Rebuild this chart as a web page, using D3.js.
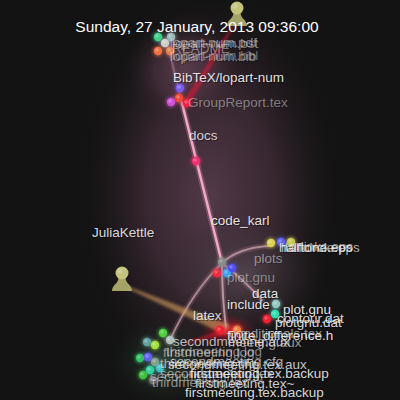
<!DOCTYPE html>
<html>
<head>
<meta charset="utf-8">
<script src="https://cdn.jsdelivr.net/npm/d3@7"></script>
<style>
  body { margin: 0; background: #131313; }
  svg { display: block; }
</style>
</head>
<body>
<div id="chart"></div>
<script>
// layout space of the frame (same units as the 400px frame)
const title = "Sunday, 27 January, 2013 09:36:00";

// directory branches: x1, y1, x2, y2, bend x, bend y, strength
const branches = [
  [222, 263, 182, 103, 202, 183, 1.0],   // code_karl -> docs
  [182, 103, 168, 46, 175, 75, 0.25],    // docs -> BibTeX/lopart-num
  [222, 263, 268, 246, 238, 248, 0.6],   // -> plots
  [222, 263, 262, 300, 244, 280, 0.6],   // -> data
  [222, 263, 226, 328, 222, 296, 0.7],   // -> include
  [222, 263, 170, 340, 192, 292, 0.55],  // -> latex
];

// file nodes: x, y, colour
const files = [
  [158, 37, "#3fd08a"], [171, 37, "#9ab8b8"], [165, 43, "#cfcfcf"],
  [158, 51, "#f07040"], [170, 51, "#e08050"],
  [180, 88, "#7a5cf0"], [179, 98, "#f04838"], [187, 103, "#f02040"],
  [171, 102, "#d050d8"], [196, 161, "#f03070"],
  [222, 262, "#8a8a8a"], [217, 273, "#f02840"], [227, 273, "#40a0f0"],
  [232, 268, "#5050f0"],
  [271, 243, "#d8d050"], [281, 242, "#6060f0"], [291, 242, "#c8c850"],
  [276, 304, "#90c8c0"], [275, 314, "#30e0b0"], [267, 319, "#f02030"],
  [220, 330, "#f02030"], [237, 330, "#f08040"],
  [163, 333, "#50d040"], [147, 342, "#60a0a0"], [155, 345, "#a0e040"],
  [170, 340, "#b0c0b8"], [140, 358, "#30c060"], [148, 357, "#6060f0"],
  [155, 362, "#80a090"], [150, 370, "#30d0a0"], [143, 375, "#40c040"],
  [160, 368, "#40c0c0"], [153, 380, "#707070"],
];

// users (avatars): name, x, y
const users = [
  ["", 237, 14],
  ["JuliaKettle", 122, 279],
];

// action beams: user index, target x, target y, colour, width at target
const beams = [
  [0, 188, 100, "#e01830", 7],
  [1, 228, 330, "#d8a060", 11],
];

// stray flash near latex: x1, y1, x2, y2, colour, width
const flashes = [
  [184, 344, 240, 327, "#e01828", 7],
];

// labels: text, x, baseline y, tone (1 = bright, 0.5 = faded)
const labels = [
  ["JuliaKettle", 92, 237, 0.9],
  ["lopart-num.pdf", 170, 47, 0.5],
  ["lopart-num.bst", 172, 48, 0.5],
  ["README", 172, 53, 0.45],
  ["lopart-num.bib", 170, 61, 0.5],
  ["lopart-num.bbl", 172, 60, 0.4],
  ["BibTeX/lopart-num", 173, 82, 0.95],
  ["GroupReport.tex", 188, 107, 0.45],
  ["docs", 189, 140, 0.85],
  ["code_karl", 211, 225, 0.95],
  ["halftone.eps", 279, 252, 0.85],
  ["halfcircle.eps", 281, 252, 0.7],
  ["torlinks.eps", 285, 251, 0.6],
  ["plots", 254, 263, 0.5],
  ["plot.gnu", 227, 282, 0.45],
  ["data", 252, 298, 0.95],
  ["include", 227, 309, 0.95],
  ["plot.gnu", 283, 314, 0.95],
  ["contour.dat", 277, 323, 0.9],
  ["plotgnu.dat", 275, 327, 0.9],
  ["latex", 193, 320, 0.9],
  ["finite_difference.h", 227, 340, 0.95],
  ["conditionals.tex", 229, 338, 0.6],
  ["secondmeeting.aux", 173, 346, 0.75],
  ["meeting.aux", 228, 347, 0.6],
  ["firstmeeting.log", 163, 357, 0.55],
  ["thirdmeeting.log", 166, 356, 0.5],
  ["secondmeeting.cfg", 170, 366, 0.7],
  ["thirdmeeting.cfg", 160, 368, 0.65],
  ["secondmeeting.tex.aux", 168, 369, 0.8],
  ["secondmeeting.tex", 160, 378, 0.6],
  ["firstmeeting.tex.backup", 190, 378, 0.9],
  ["secondmeeting.log", 150, 381, 0.45],
  ["thirdmeeting.tex", 152, 387, 0.55],
  ["firstmeeting.tex~", 195, 388, 0.85],
  ["firstmeeting.tex.backup", 185, 397, 0.9],
];

const width = 400;
const height = 400;

const x = d3.scaleLinear().domain([0, 400]).range([0, width]);
const y = d3.scaleLinear().domain([0, 400]).range([0, height]);

const svg = d3
  .select("#chart")
  .append("svg")
  .attr("width", width)
  .attr("height", height);

const defs = svg.append("defs");

const radial = (id, stops) => {
  const g = defs.append("radialGradient").attr("id", id);
  stops.forEach(([o, c, a]) =>
    g.append("stop").attr("offset", o).attr("stop-color", c).attr("stop-opacity", a)
  );
};
radial("haze", [["0%", "#6e4a60", 0.7], ["50%", "#553848", 0.55], ["100%", "#2a1c24", 0]]);
radial("grey", [["0%", "#6a6068", 0.5], ["100%", "#3a3036", 0]]);
radial("green", [["0%", "#3c5a46", 0.7], ["100%", "#1c2a20", 0]]);
radial("red", [["0%", "#ff2030", 0.7], ["100%", "#a01020", 0]]);

const soft = defs.append("filter").attr("id", "soft").attr("x", "-50%").attr("y", "-50%")
  .attr("width", "200%").attr("height", "200%");
soft.append("feGaussianBlur").attr("stdDeviation", 1.6);

// background
svg.append("rect").attr("width", width).attr("height", height).attr("fill", "#131313");

// glow behind the tree
const glow = svg.append("g");
glow.append("ellipse").attr("cx", x(210)).attr("cy", y(195))
  .attr("rx", 130).attr("ry", 205).attr("fill", "url(#haze)");
glow.append("ellipse").attr("cx", x(185)).attr("cy", y(70))
  .attr("rx", 60).attr("ry", 55).attr("fill", "url(#haze)");
glow.append("ellipse").attr("cx", x(245)).attr("cy", y(275))
  .attr("rx", 80).attr("ry", 60).attr("fill", "url(#grey)");
glow.append("ellipse").attr("cx", x(165)).attr("cy", y(362))
  .attr("rx", 55).attr("ry", 45).attr("fill", "url(#green)");
glow.append("ellipse").attr("cx", x(228)).attr("cy", y(330))
  .attr("rx", 28).attr("ry", 16).attr("fill", "url(#red)");

// branches
const branchPath = (d) => {
  const p = d3.path();
  p.moveTo(x(d[0]), y(d[1]));
  p.quadraticCurveTo(x(d[4]), y(d[5]), x(d[2]), y(d[3]));
  return p.toString();
};
const br = svg.append("g").attr("fill", "none").attr("stroke-linecap", "round");
br.selectAll("path.halo")
  .data(branches)
  .join("path")
  .attr("class", "halo")
  .attr("d", branchPath)
  .attr("stroke", "#f0a0c0")
  .attr("stroke-opacity", (d) => 0.25 * d[6])
  .attr("stroke-width", 6);
br.selectAll("path.core")
  .data(branches)
  .join("path")
  .attr("class", "core")
  .attr("d", branchPath)
  .attr("stroke", (d) => (d[6] > 0.9 ? "#f2a8c4" : "#c8a4ac"))
  .attr("stroke-opacity", (d) => Math.min(1, d[6] + 0.15))
  .attr("stroke-width", (d) => (d[6] > 0.9 ? 2.5 : 2));

// beams from users to files
const beamPoly = (x0, y0, x1, y1, w0, w1) => {
  const dx = x1 - x0, dy = y1 - y0, len = Math.hypot(dx, dy);
  const nx = -dy / len, ny = dx / len;
  return [
    [x0 + nx * w0 / 2, y0 + ny * w0 / 2],
    [x1 + nx * w1 / 2, y1 + ny * w1 / 2],
    [x1 - nx * w1 / 2, y1 - ny * w1 / 2],
    [x0 - nx * w0 / 2, y0 - ny * w0 / 2],
  ];
};
const bm = svg.append("g");
bm.selectAll("polygon.beam")
  .data(beams)
  .join("polygon")
  .attr("class", "beam")
  .attr("points", (d) => {
    const u = users[d[0]];
    return beamPoly(x(u[1]), y(u[2] + 6), x(d[1]), y(d[2]), 1.5, d[4]).join(" ");
  })
  .attr("fill", (d) => d[3])
  .attr("fill-opacity", 0.6)
  .attr("filter", "url(#soft)");
bm.selectAll("polygon.flash")
  .data(flashes)
  .join("polygon")
  .attr("class", "flash")
  .attr("points", (d) => beamPoly(x(d[0]), y(d[1]), x(d[2]), y(d[3]), 2, d[5]).join(" "))
  .attr("fill", (d) => d[4])
  .attr("fill-opacity", 0.6)
  .attr("filter", "url(#soft)");

// file nodes
const fg = svg.append("g");
fg.selectAll("circle.blur")
  .data(files)
  .join("circle")
  .attr("class", "blur")
  .attr("cx", (d) => x(d[0]))
  .attr("cy", (d) => y(d[1]))
  .attr("r", 5.5)
  .attr("fill", (d) => d[2])
  .attr("fill-opacity", 0.5)
  .attr("filter", "url(#soft)");
fg.selectAll("circle.dot")
  .data(files)
  .join("circle")
  .attr("class", "dot")
  .attr("cx", (d) => x(d[0]))
  .attr("cy", (d) => y(d[1]))
  .attr("r", 4.2)
  .attr("fill", (d) => d[2]);
fg.selectAll("circle.shine")
  .data(files)
  .join("circle")
  .attr("class", "shine")
  .attr("cx", (d) => x(d[0]) - 1)
  .attr("cy", (d) => y(d[1]) - 1)
  .attr("r", 1.8)
  .attr("fill", "#fff")
  .attr("fill-opacity", 0.25);

// avatars
const av = svg.append("g");
const pawn = av.selectAll("g").data(users).join("g")
  .attr("transform", (d) => `translate(${x(d[1])},${y(d[2])})`);
pawn.append("path")
  .attr("d", "M-3.5,-1 C-4,5 -10,6 -10,12 L10,12 C10,6 4,5 3.5,-1 Z")
  .attr("fill", "#a3a466");
pawn.append("circle").attr("cy", -6).attr("r", 6.5).attr("fill", "#c3c47c");
pawn.append("circle").attr("cx", -2).attr("cy", -8).attr("r", 2.8)
  .attr("fill", "#fff").attr("fill-opacity", 0.18);

// labels
const lg = svg.append("g")
  .style("font-family", "'Liberation Sans', Arial, sans-serif")
  .style("font-size", "13.5px");
lg.selectAll("text.shadow")
  .data(labels)
  .join("text")
  .attr("class", "shadow")
  .attr("x", (d) => x(d[1]) + 1)
  .attr("y", (d) => y(d[2]) + 1)
  .attr("fill", "#000")
  .attr("fill-opacity", (d) => 0.5 * d[3])
  .text((d) => d[0]);
lg.selectAll("text.label")
  .data(labels)
  .join("text")
  .attr("class", "label")
  .attr("x", (d) => x(d[1]))
  .attr("y", (d) => y(d[2]))
  .attr("fill", "#f0f0f0")
  .attr("fill-opacity", (d) => d[3])
  .text((d) => d[0]);

// date caption
svg.append("text")
  .attr("x", x(197))
  .attr("y", y(32))
  .attr("text-anchor", "middle")
  .style("font-family", "'Liberation Sans', Arial, sans-serif")
  .style("font-size", "15.5px")
  .attr("fill", "#ffffff")
  .text(title);
</script>
</body>
</html>
